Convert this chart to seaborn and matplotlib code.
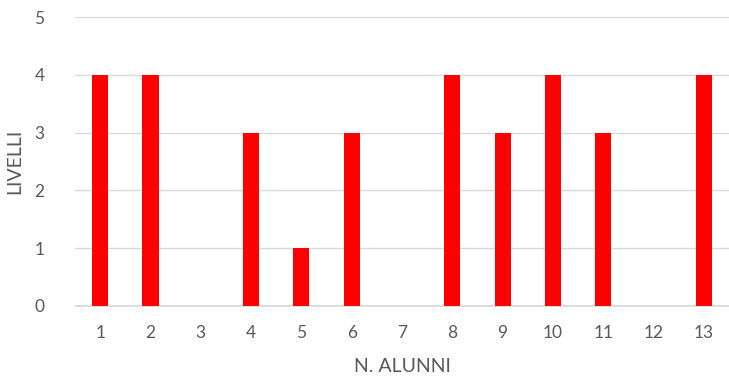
import matplotlib
matplotlib.use("Agg")
import matplotlib.pyplot as plt
import seaborn as sns
import pandas as pd

alunni = ["1", "2", "3", "4", "5", "6", "7", "8", "9", "10", "11", "12", "13"]
livelli = [4, 4, 0, 3, 1, 3, 0, 4, 3, 4, 3, 0, 4]
y_ticks = [0, 1, 2, 3, 4, 5]

sns.set_theme(style="white")
plt.rcParams['font.family'] = ['Lato', 'DejaVu Sans']

df = pd.DataFrame({"alunni": alunni, "livelli": livelli})

fig = plt.figure(figsize=(7.29, 3.85), dpi=100)
ax = fig.add_axes([75/729, 1-306/385, 654/729, 289/385])
ax.set_axisbelow(True)
sns.barplot(data=df, x="alunni", y="livelli", order=alunni, color="#FF0000",
            saturation=1, width=0.32, ax=ax, zorder=3, edgecolor="none", linewidth=0)
ax.set_ylim(0, 5)
ax.set_yticks(y_ticks)
ax.set_xlim(-0.5, len(alunni)-0.5)
ax.grid(axis="y", color="#D9D9D9", linewidth=1, zorder=0)
for s in ["top", "right", "left"]:
    ax.spines[s].set_visible(False)
ax.spines["bottom"].set_color("#D9D9D9")
ax.tick_params(axis="both", length=0, labelsize=12.5, labelcolor="#595959", pad=14)
ax.tick_params(axis="y", pad=22)
ax.set_xlabel("N. ALUNNI", fontsize=14, color="#595959", labelpad=12)
ax.set_ylabel("LIVELLI", fontsize=14, color="#595959", labelpad=8)
fig.savefig("out.png", dpi=100)
